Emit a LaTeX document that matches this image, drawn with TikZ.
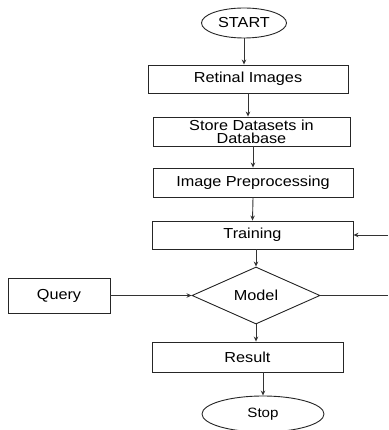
\documentclass[tikz,border=0pt]{standalone}
\usepackage{fontspec}
\setmainfont{Liberation Sans}[FakeStretch=1.12]
\usetikzlibrary{shapes.geometric,arrows.meta}
\begin{document}
\begin{tikzpicture}[x=1pt,y=-1pt,
  every node/.style={font=\fontsize{14.5}{13}\selectfont, inner sep=0pt},
  boxnode/.style={draw=black!85, line width=0.9pt, rectangle, align=center},
  ovalnode/.style={draw=black!85, line width=0.9pt, ellipse},
  decnode/.style={draw=black!85, line width=0.9pt, diamond, aspect=2.25},
  conn/.style={draw=black!80, line width=0.9pt},
  arr/.style={conn, -{Stealth[length=5pt,width=4.5pt]}}]
\useasboundingbox (0,0) rectangle (388,430);
\fill[white] (0,0) rectangle (388,430);

\node[ovalnode, minimum width=85pt, minimum height=30pt] (start) at (244,23) {START};
\node[boxnode, minimum width=200pt, minimum height=28pt] (ret) at (248,79) {Retinal Images};
\node[boxnode, minimum width=197pt, minimum height=29pt] (store) at (251.5,131.5) {Store Datasets in\\Database};
\node[boxnode, minimum width=200pt, minimum height=29pt] (prep) at (253,182.5) {Image Preprocessing};
\node[boxnode, minimum width=201pt, minimum height=28pt] (train) at (252.5,235) {Training};
\node[decnode, minimum width=128pt, minimum height=57pt] (model) at (256,295.5) {Model};
\node[boxnode, minimum width=102pt, minimum height=35pt] (query) at (59,295.5) {Query};
\node[boxnode, minimum width=191pt, minimum height=30pt] (result) at (247.5,357) {Result};
\node[ovalnode, minimum width=122pt, minimum height=36pt, font=\fontsize{13.5}{14}\selectfont] (stop) at (263,414) {Stop};

\coordinate (fbR) at (388,295.5);
\coordinate (fbT) at (388,235);

\draw[arr] (start.south) -- (start.south |- ret.north);
\draw[arr] (ret.south) -- (ret.south |- store.north);
\draw[arr] (prep.north |- store.south) -- (prep.north);
\draw[arr] (prep.south) -- (train.north);
\draw[arr] (fbT) -- (train.east);
\draw[arr] (train.south -| model.north) -- (model.north);
\draw[arr] (query.east) -- (model.west);
\draw[conn] (model.east) -- (fbR);
\draw[arr] (model.south) -- (model.south |- result.north);
\draw[arr] (stop.north |- result.south) -- (stop.north);
\end{tikzpicture}
\end{document}
